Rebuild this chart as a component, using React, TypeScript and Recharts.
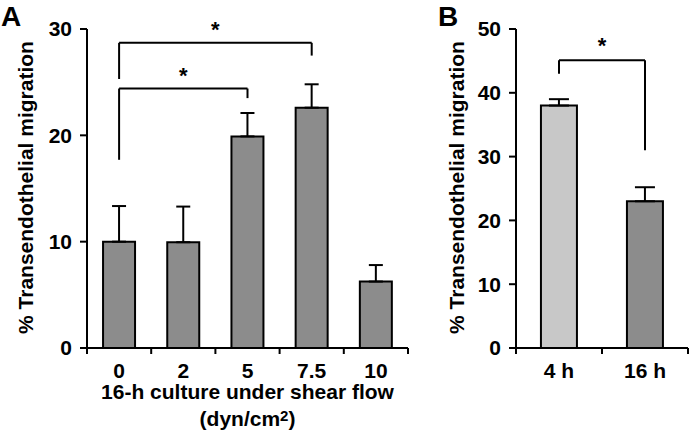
import { BarChart, Bar, XAxis, YAxis, ErrorBar, Cell, ReferenceLine } from 'recharts';

// panel A: 16-h culture under different shear stresses
const shearCategories = ['0', '2', '5', '7.5', '10'];
const shearMeans = [10.0, 9.95, 19.9, 22.6, 6.25];
const shearErrors = [3.35, 3.35, 2.2, 2.2, 1.55];
const shearTicks = [0, 10, 20, 30];
const shearBrackets = [
  { from: '0', to: '7.5', y: 28.7, leftEnd: 25.3, rightEnd: 27.5 },
  { from: '0', to: '5', y: 24.4, leftEnd: 17.7, rightEnd: 23.5 },
];

// panel B: 4 h vs 16 h
const timeCategories = ['4 h', '16 h'];
const timeMeans = [38.0, 23.0];
const timeErrors = [1.0, 2.2];
const timeColors = ['#c8c8c8', '#8c8c8c'];
const timeTicks = [0, 10, 20, 30, 40, 50];
const timeBrackets = [{ from: '4 h', to: '16 h', y: 45.1, leftEnd: 43.0, rightEnd: 31.0 }];

const FONT = '"Liberation Sans", Arial, Helvetica, sans-serif';
const YLABEL = '% Transendothelial migration';

const shearData = shearCategories.map((name, i) => ({ name, value: shearMeans[i], err: [0, shearErrors[i]] }));
const timeData = timeCategories.map((name, i) => ({ name, value: timeMeans[i], err: [0, timeErrors[i]] }));

const axisStyle = { stroke: '#000', strokeWidth: 2 };
const tickText = { fill: '#000', fontSize: 21, fontWeight: 'bold', fontFamily: FONT };

function XTick(props: any) {
  const { x, y, payload, index, bw, n } = props;
  const left = x - bw / 2;
  return (
    <g>
      <line x1={left} y1={y} x2={left} y2={y + 6} stroke="#000" strokeWidth={2} />
      {index === n - 1 && <line x1={x + bw / 2} y1={y} x2={x + bw / 2} y2={y + 6} stroke="#000" strokeWidth={2} />}
      <text x={x} y={y + 30} textAnchor="middle" {...tickText}>{payload.value}</text>
    </g>
  );
}

function yLabel(offsetX: number) {
  return (props: any) => {
    const vb = props.viewBox;
    const cx = vb.x + offsetX;
    const cy = vb.y + vb.height / 2 - 1;
    return (
      <text x={cx} y={cy} transform={`rotate(-90, ${cx}, ${cy})`} textAnchor="middle"
        fill="#000" fontSize={21} fontWeight="bold" fontFamily={FONT}>
        {YLABEL}
      </text>
    );
  };
}

function bracketLines(list: any[], prefix: string, labelOffset: number) {
  return list.flatMap((b, i) => [
    <ReferenceLine key={`${prefix}h${i}`} segment={[{ x: b.from, y: b.y }, { x: b.to, y: b.y }]}
      stroke="#000" strokeWidth={2}
      label={{ value: '*', position: 'top', offset: labelOffset, fill: '#000', fontSize: 22, fontWeight: 'bold', fontFamily: FONT }} />,
    <ReferenceLine key={`${prefix}l${i}`} segment={[{ x: b.from, y: b.leftEnd }, { x: b.from, y: b.y }]} stroke="#000" strokeWidth={2} />,
    <ReferenceLine key={`${prefix}r${i}`} segment={[{ x: b.to, y: b.rightEnd }, { x: b.to, y: b.y }]} stroke="#000" strokeWidth={2} />,
  ]);
}

export default function App() {
  const bwA = (420 - 87 - 12) / shearCategories.length;
  const bwB = (270 - 96 - 2) / timeCategories.length;

  return (
    <div style={{ position: 'absolute', left: 0, top: 0, width: 690, height: 435, background: '#fff', fontFamily: FONT }}>
      <div style={{ position: 'absolute', left: 0, top: 0 }}>
        <BarChart width={420} height={435} data={shearData} margin={{ top: 29, right: 12, bottom: 0, left: 0 }}
          barCategoryGap="25%">
          <XAxis dataKey="name" height={87} interval={0} axisLine={axisStyle} tickLine={false} tickSize={0} tickMargin={0}
            tick={(p: any) => <XTick {...p} bw={bwA} n={shearCategories.length} />}
            label={{
              content: (props: any) => {
                const vb = props.viewBox;
                const cx = vb.x + vb.width / 2;
                return (
                  <g fill="#000" fontSize={21} fontWeight="bold" fontFamily={FONT}>
                    <text x={cx} y={vb.y + 51} textAnchor="middle">16-h culture under shear flow</text>
                    <text x={cx} y={vb.y + 78} textAnchor="middle">
                      (dyn/cm<tspan fontSize={15} dy={-5}>2</tspan><tspan dy={5}>)</tspan>
                    </text>
                  </g>
                );
              },
            }} />
          <YAxis width={87} domain={[0, 30]} ticks={shearTicks} interval={0} axisLine={axisStyle} tickLine={axisStyle}
            tickSize={7} tickMargin={8} tick={tickText} label={{ content: yLabel(33) }} />
          <Bar dataKey="value" fill="#8c8c8c" stroke="#000" strokeWidth={2} isAnimationActive={false}>
            <ErrorBar dataKey="err" direction="y" width={7} stroke="#000" strokeWidth={2} />
          </Bar>
          {bracketLines(shearBrackets, 'a', 6)}
        </BarChart>
      </div>

      <div style={{ position: 'absolute', left: 420, top: 0 }}>
        <BarChart width={270} height={435} data={timeData} margin={{ top: 29, right: 2, bottom: 0, left: 0 }}
          barCategoryGap="29%">
          <XAxis dataKey="name" height={87} interval={0} axisLine={axisStyle} tickLine={false} tickSize={0} tickMargin={0}
            tick={(p: any) => <XTick {...p} bw={bwB} n={timeCategories.length} />} />
          <YAxis width={96} domain={[0, 50]} ticks={timeTicks} interval={0} axisLine={axisStyle} tickLine={axisStyle}
            tickSize={7} tickMargin={8} tick={tickText} label={{ content: yLabel(44) }} />
          <Bar dataKey="value" stroke="#000" strokeWidth={2} isAnimationActive={false}>
            {timeData.map((d, i) => <Cell key={d.name} fill={timeColors[i]} />)}
            <ErrorBar dataKey="err" direction="y" width={10} stroke="#000" strokeWidth={2} />
          </Bar>
          {bracketLines(timeBrackets, 'b', 7)}
        </BarChart>
      </div>

      <svg width={690} height={435} style={{ position: 'absolute', left: 0, top: 0, pointerEvents: 'none' }}>
        <text x={1} y={26} fill="#000" fontSize={28} fontWeight="bold" fontFamily={FONT}>A</text>
        <text x={438} y={26} fill="#000" fontSize={28} fontWeight="bold" fontFamily={FONT}>B</text>
      </svg>
    </div>
  );
}
